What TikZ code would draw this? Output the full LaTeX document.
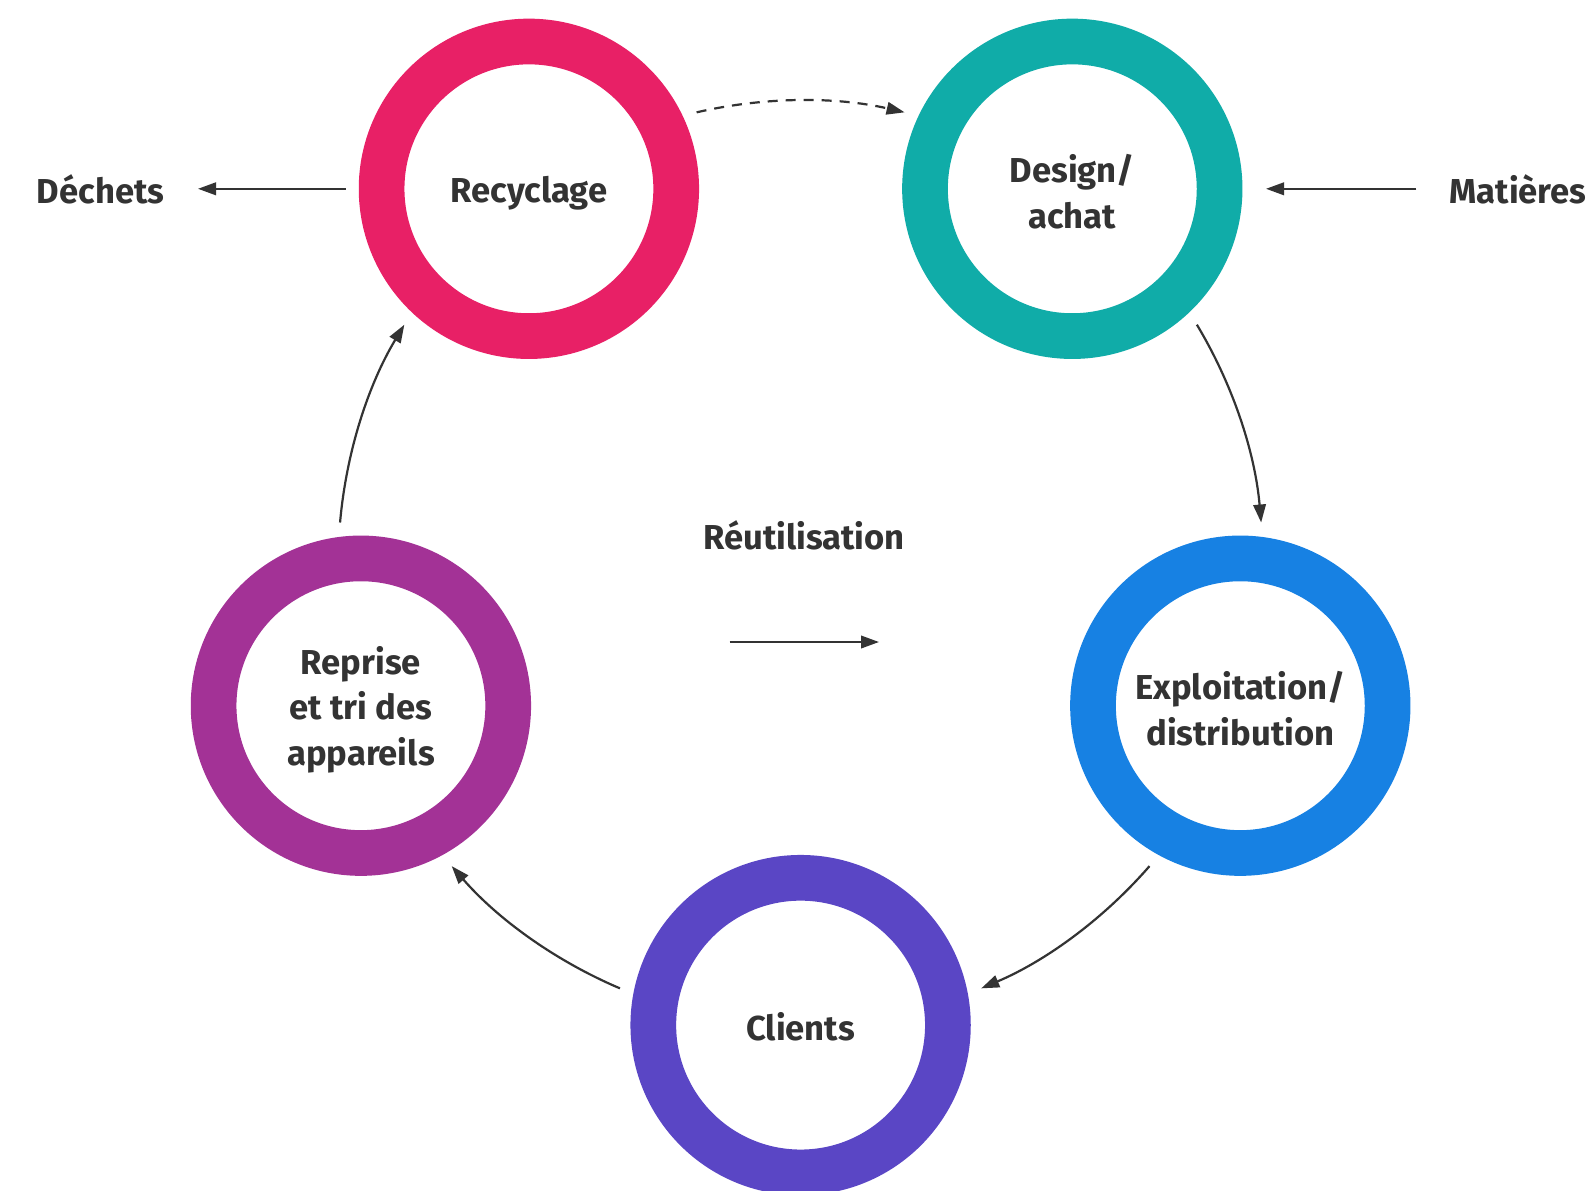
\documentclass[tikz,border=0pt]{standalone}
\usepackage{fontspec}
\setmainfont{Fira Sans}
\usetikzlibrary{arrows.meta}
\definecolor{txt}{HTML}{333333}
\definecolor{recc}{HTML}{E82066}
\definecolor{desc}{HTML}{10ACA8}
\definecolor{expc}{HTML}{1781E3}
\definecolor{clic}{HTML}{5A46C5}
\definecolor{repc}{HTML}{A33296}
\begin{document}
\begin{tikzpicture}[x=1pt,y=1pt,
  ring/.style={circle, draw=#1, line width=45.7pt, minimum size=294.6pt, inner sep=0pt},
  lbl/.style={font=\fontsize{34.6}{45.7}\selectfont\bfseries, text=txt, inner sep=0pt, align=center},
  arr/.style={draw=txt, line width=2.2pt, -{Triangle[length=18pt,width=12.5pt]}},
]
\useasboundingbox (0,0) rectangle (1593,-1191);
\clip (0,0) rectangle (1593,-1191);
\fill[white] (0,0) rectangle (1593,-1191);
\coordinate (C) at (800.6,-562.8);
\node[ring=recc] (rec) at (528.9,-188.8) {};
\node[ring=desc] (des) at (1072.3,-188.8) {};
\node[ring=expc] (exp) at (1240.3,-705.7) {};
\node[ring=clic] (cli) at (800.6,-1025.1) {};
\node[ring=repc] (rep) at (360.9,-705.7) {};
\node[lbl] (recT) at ([yshift=-4pt]rec.center) {Recyclage};
\node[lbl] (desT) at ([yshift=-3pt]des.center) {Design/\\achat};
\node[lbl] (expT) at ([yshift=-3pt]exp.center) {Exploitation/\\distribution};
\node[lbl] (cliT) at ([yshift=-2pt]cli.center) {Clients};
\node[lbl] (repT) at ([yshift=-4pt]rep.center) {Reprise\\et tri des\\appareils};
\node[lbl] (dech) at (100.6,-189.5) {Déchets};
\node[lbl] (mat) at (1518,-189.5) {Matières};
\node[lbl] (reu) at (804,-535) {Réutilisation};
\coordinate (reuA) at (729.5,-642);
\coordinate (reuB) at (879,-642);
\draw[arr] (reuA) -- (reuB);
\draw[arr, shorten <=13pt] (rec.west) -- (198,-188.8) coordinate (dechtip);
\draw[arr, shorten <=33pt] (mat.west |- des.east) -- (1266,-188.8) coordinate (mattip);
\draw[arr, dash pattern=on 10pt off 8pt] ([shift={(103:462.3)}]C) arc[start angle=103, end angle=77, radius=462.3pt];
\draw[arr] ([shift={(31:462.3)}]C) arc[start angle=31, end angle=5, radius=462.3pt];
\draw[arr] ([shift={(-41:462.3)}]C) arc[start angle=-41, end angle=-67, radius=462.3pt];
\draw[arr] ([shift={(-113:462.3)}]C) arc[start angle=-113, end angle=-139, radius=462.3pt];
\draw[arr] ([shift={(175:462.3)}]C) arc[start angle=175, end angle=149, radius=462.3pt];
\end{tikzpicture}
\end{document}
